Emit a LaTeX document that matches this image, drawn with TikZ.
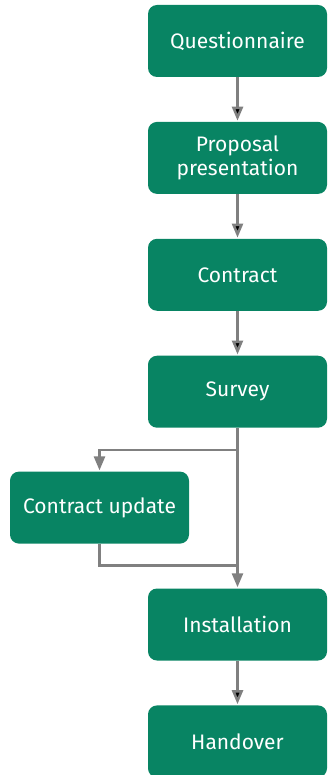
\documentclass[tikz,border=0pt]{standalone}
\usepackage{fontspec}
\setsansfont{Fira Sans}
\usetikzlibrary{positioning,arrows.meta}
\definecolor{stagegreen}{RGB}{8,132,99}
\definecolor{linegray}{RGB}{128,128,128}
\begin{document}
\begin{tikzpicture}[x=1pt, y=1pt, node distance=44.5pt,
    stage/.style={rectangle, rounded corners=9pt, fill=stagegreen, text=white, minimum width=179pt, minimum height=72pt, align=center, font=\sffamily\fontsize{21}{24}\selectfont},
    flow/.style={draw=linegray, line width=2.5pt, -{Triangle[width=11pt,length=14pt]}, shorten >=1pt}]
    \useasboundingbox (0,0) rectangle (328,-775);

    \node[stage] (Q) at (237.5,-41) {Questionnaire};
    \node[stage, below=of Q] (P) {Proposal\\presentation};
    \node[stage, below=of P] (C) {Contract};
    \node[stage, below=of C] (S) {Survey};
    \node[stage, below=43.5pt of S, xshift=-138pt] (U) {Contract update};
    \node[stage, below=of U, xshift=138pt] (I) {Installation};
    \node[stage, below=of I] (H) {Handover};

    % branch point under the survey and the merge above installation
    \coordinate (split) at ([yshift=-22pt]S.south);
    \coordinate (merge) at ([yshift=23pt]I.north);

    \path[flow]
    (Q) edge (P)
    (P) edge (C)
    (C) edge (S)
    (I) edge (H);
    \draw[flow] (S.south) -- (I.north);
    \draw[flow] (split) -| (U.north);
    \draw[draw=linegray, line width=2.5pt] (U.south) |- (merge);
\end{tikzpicture}
\end{document}
